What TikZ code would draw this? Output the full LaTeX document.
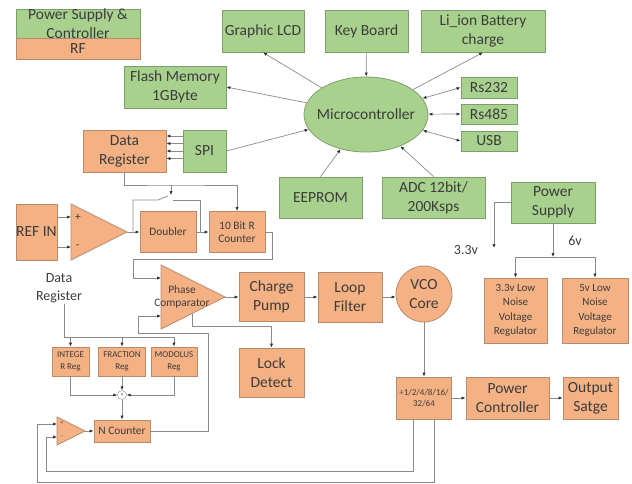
\documentclass[tikz,border=0pt]{standalone}
\usepackage{fontspec}
\setmainfont{Carlito}
\usetikzlibrary{shapes.geometric,arrows.meta,calc}

\definecolor{fillgreen}{HTML}{A9D18E}
\definecolor{edgegreen}{HTML}{7E9E68}
\definecolor{fillorange}{HTML}{F4B183}
\definecolor{edgeorange}{HTML}{B88A6C}
\definecolor{wiregray}{HTML}{8A8A8A}
\definecolor{tipgray}{HTML}{303030}
\definecolor{txtgray}{HTML}{3C3C3C}

\newcommand\bigtxt{\fontsize{15.5}{19}\selectfont}
\newcommand\lbltxt{\fontsize{14}{18}\selectfont}
\newcommand\midtxt{\fontsize{11.4}{13.5}\selectfont}
\newcommand\regtxt{\fontsize{11}{14.3}\selectfont}
\newcommand\smalltxt{\fontsize{9}{11.5}\selectfont}
\newcommand\tinytxt{\fontsize{6}{6}\selectfont}

\tikzset{
  gbox/.style={draw=edgegreen, fill=fillgreen, text=txtgray, align=center, inner sep=1pt, line width=0.8pt},
  obox/.style={draw=edgeorange, fill=fillorange, text=txtgray, align=center, inner sep=1pt, line width=0.8pt},
  ampshape/.style={draw=edgeorange, fill=fillorange, line width=0.8pt},
  lbl/.style={text=txtgray, align=center, inner sep=1pt},
  wire/.style={draw=wiregray, line width=0.7pt},
  arr/.tip={Latex[length=4pt,width=3.2pt,color=tipgray]},
}

\begin{document}
\begin{tikzpicture}[x=1pt,y=-1pt]
\useasboundingbox (0,0) rectangle (632,483);

% legend
\node[gbox, minimum width=124pt, minimum height=29pt] (keygreen) at (78,23.5) {};
\node[lbl, font=\bigtxt] (keygreentxt) at (78,24) {Power Supply \&\\Controller};
\node[obox, minimum width=124pt, minimum height=21pt, font=\bigtxt] (keyrf) at (78,48.5) {RF};

% controller side
\node[gbox, minimum width=82pt, minimum height=42pt, font=\bigtxt] (lcd) at (263,31) {Graphic LCD};
\node[gbox, minimum width=83pt, minimum height=42pt, font=\bigtxt] (keyb) at (366.5,31) {Key Board};
\node[gbox, minimum width=124pt, minimum height=42pt, font=\bigtxt] (liion) at (483,31) {Li\_ion Battery\\charge};
\node[gbox, minimum width=102pt, minimum height=42pt, font=\bigtxt] (flash) at (175,87) {Flash Memory\\1GByte};
\node[gbox, ellipse, minimum width=124pt, minimum height=75pt, font=\bigtxt] (mcu) at (366,114.5) {\makebox[0pt]{Microcontroller}};
\node[gbox, minimum width=56pt, minimum height=21pt, font=\bigtxt] (rs232) at (489,87.5) {Rs232};
\node[gbox, minimum width=56pt, minimum height=20pt, font=\bigtxt] (rs485) at (489,114) {Rs485};
\node[gbox, minimum width=56pt, minimum height=20pt, font=\bigtxt] (usb) at (489,141) {USB};
\node[gbox, minimum width=43pt, minimum height=42pt, font=\bigtxt] (spi) at (204.5,151) {SPI};
\node[gbox, minimum width=83pt, minimum height=41pt, font=\bigtxt] (eeprom) at (320.5,197.5) {EEPROM};
\node[gbox, minimum width=103pt, minimum height=41pt, font=\bigtxt] (adc) at (433.5,197.5) {ADC 12bit/\\200Ksps};
\node[gbox, minimum width=84pt, minimum height=41pt, font=\bigtxt] (psu) at (553,202.5) {Power\\Supply};

% rf side
\node[obox, minimum width=83pt, minimum height=42pt, font=\bigtxt] (datareg) at (124.5,151) {Data\\Register};
\node[obox, minimum width=41pt, minimum height=56pt, inner sep=0pt, font=\bigtxt] (refin) at (36.5,232) {REF IN};
\node[obox, minimum width=56pt, minimum height=41pt, font=\midtxt] (doubler) at (168,232) {Doubler};
\node[obox, minimum width=56pt, minimum height=41pt, font=\midtxt] (rcount) at (237,232) {10 Bit R\\Counter};
\node[obox, minimum width=65pt, minimum height=49pt, font=\bigtxt] (cpump) at (271.5,297) {Charge\\Pump};
\node[obox, minimum width=64pt, minimum height=50pt, font=\bigtxt] (loopf) at (350,297) {Loop\\Filter};
\node[obox, circle, minimum size=56pt, font=\bigtxt] (vco) at (424,294) {VCO\\Core};
\node[obox, minimum width=65pt, minimum height=49pt, font=\bigtxt] (lock) at (271.5,372.5) {Lock\\Detect};
\node[obox, minimum width=63pt, minimum height=65pt, font=\regtxt] (reg33) at (515.5,310.5) {3.3v Low\\Noise\\Voltage\\Regulator};
\node[obox, minimum width=66pt, minimum height=65pt, font=\regtxt] (reg5) at (595,310.5) {5v Low\\Noise\\Voltage\\Regulator};
\node[obox, minimum width=37pt, minimum height=29pt, inner sep=0pt, font=\smalltxt] (intreg) at (70.5,361.5) {INTEGE\\R Reg};
\node[obox, minimum width=47pt, minimum height=29pt, inner sep=0pt, font=\smalltxt] (fracreg) at (122,361.5) {FRACTION\\Reg};
\node[obox, minimum width=46pt, minimum height=29pt, inner sep=0pt, font=\smalltxt] (modreg) at (174,361.5) {MODOLUS\\Reg};
\node[draw=wiregray, fill=white, circle, minimum size=9pt, inner sep=0pt, text=txtgray, font=\tinytxt] (sum) at (122,395) {+};
\node[obox, minimum width=56pt, minimum height=22pt, font=\midtxt] (ncount) at (122,431) {N Counter};
\node[obox, minimum width=55pt, minimum height=42pt, inner sep=0pt, font=\fontsize{9}{10.5}\selectfont] (div) at (424,398) {÷1/2/4/8/16/\\32/64};
\node[obox, minimum width=83pt, minimum height=42pt, font=\bigtxt] (pctrl) at (507.5,398) {Power\\Controller};
\node[obox, minimum width=55pt, minimum height=42pt, font=\bigtxt] (outst) at (590.5,398) {Output\\Satge};

% amplifiers and phase comparator
\draw[ampshape] (71,204) -- (127,232) -- (71,260) -- cycle;
\coordinate (refp) at (71,217);
\coordinate (refm) at (71,247);
\coordinate (refout) at (127,232);
\node[lbl, font=\midtxt] (refplus) at (78,217) {+};
\node[lbl, font=\midtxt] (refminus) at (77.5,247) {-};

\draw[ampshape] (161,265) -- (225,297) -- (161,329) -- cycle;
\coordinate (pcin1) at (161,278);
\coordinate (pcin2) at (161,316);
\coordinate (pcout) at (225,297);
\coordinate (pcbot) at (192,313.5);
\node[lbl, font=\midtxt] (pclbl) at (182,297) {Phase\\Comparator};

\draw[ampshape] (57,417) -- (85,431) -- (57,445) -- cycle;
\coordinate (nin1) at (57,424);
\coordinate (nin2) at (57,437);
\coordinate (nout) at (85,431);
\node[lbl, font=\tinytxt] (nplus) at (62,423) {+};
\node[lbl, font=\tinytxt] (nminus) at (62,437) {-};

% labels
\node[lbl, font=\lbltxt] (dreglbl) at (59,288) {Data\\Register};
\node[lbl, font=\lbltxt] (v33lbl) at (466,250) {3.3v};
\node[lbl, font=\lbltxt] (v6lbl) at (575,241) {6v};

% microcontroller links
\draw[wire,-arr] (mcu) -- (lcd.south);
\draw[wire,-arr] (mcu) -- (flash.east);
\draw[wire,-arr] (spi.east) -- (mcu);
\draw[wire,-arr] (keyb) -- (mcu);
\draw[wire,-arr] (mcu) -- (liion.south);
\draw[wire,arr-arr] (mcu) -- (rs232.west);
\draw[wire,arr-arr] (mcu) -- (rs485.west);
\draw[wire,arr-arr] (mcu) -- (usb.west);
\draw[wire,-arr] (eeprom.north) -- (mcu);
\draw[wire,-arr] (adc.north) -- (mcu);
\foreach \dy in {-15,-7.5,0,7.5}
  \draw[wire,-arr] ($(spi.west)+(0,\dy)$) -- ($(datareg.east)+(0,\dy)$);

% power
\coordinate (v33end) at (494,248);
\coordinate (split6) at (553,257);
\draw[wire,-arr] (psu.west) -| (v33end);
\draw[wire,-arr] (psu.south) -- (split6);
\draw[wire,-arr] (split6) -| (reg33.north);
\draw[wire,-arr] (split6) -| (reg5.north);

% reference path
\draw[wire,-arr] (refin.east |- refp) -- (refp);
\draw[wire,-arr] (refin.east |- refm) -- (refm);
\draw[wire,-arr] (refout) -- (doubler.west);
\draw[wire,-arr] (doubler.east) -- (rcount.west);
\coordinate (swin) at (133,232);
\coordinate (swa) at (158,200);
\coordinate (swb) at (168,196);
\coordinate (swc) at (173,200);
\coordinate (swjoin) at (200,232);
\draw[wire] (swin) |- (swa) -- (swb);
\draw[wire] (swc) -| (swjoin);
\coordinate (ctltop) at (171,185);
\coordinate (ctlend) at (171,195);
\draw[wire,-arr] (datareg.south) |- (ctltop) -| (rcount.north);
\draw[wire,-arr] (ctltop) -- (ctlend);
\coordinate (rbend) at (133,259);
\draw[wire,-arr] (rcount.east) -- ++(7,0) |- (rbend) |- (pcin1);

% loop
\draw[wire,-arr] (pcout) -- (cpump.west);
\draw[wire,-arr] (cpump.east) -- (loopf.west);
\draw[wire,-arr] (loopf.east) -- (loopf.east -| vco.west);
\coordinate (lockbend) at (192,326);
\draw[wire,-arr] (pcbot) -- (lockbend) -| (lock.north);
\draw[wire,-arr] (vco.south) -- (div.north);
\draw[wire,-arr] (div.east) -- (pctrl.west);
\draw[wire,-arr] (pctrl.east) -- (outst.west);

% n divider
\coordinate (regbus) at (64,337);
\draw[wire] (dreglbl.south -| regbus) -- (regbus) -- (regbus -| modreg.north);
\foreach \r in {intreg,fracreg,modreg}
  \draw[wire,-arr] (regbus -| \r.north) -- (\r.north);
\draw[wire,-arr] (intreg.south) |- (sum.west);
\draw[wire,-arr] (fracreg.south) -- (sum.north);
\draw[wire,-arr] (modreg.south) |- (sum.east);
\draw[wire,-arr] (sum.south) -- (ncount.north);
\draw[wire,-arr] (nout) -- (ncount.west);
\coordinate (nloopa) at (208,333);
\coordinate (nloopb) at (138,333);
\draw[wire,-arr] (ncount.east) -| (nloopa) -- (nloopb) |- (pcin2);
\coordinate (fbm) at (46,471);
\coordinate (fbp) at (37,482);
\draw[wire,-arr] ([xshift=-11pt]div.south) |- (fbm) |- (nin2);
\draw[wire,-arr] ([xshift=10pt]div.south) |- (fbp) |- (nin1);
\end{tikzpicture}
\end{document}
